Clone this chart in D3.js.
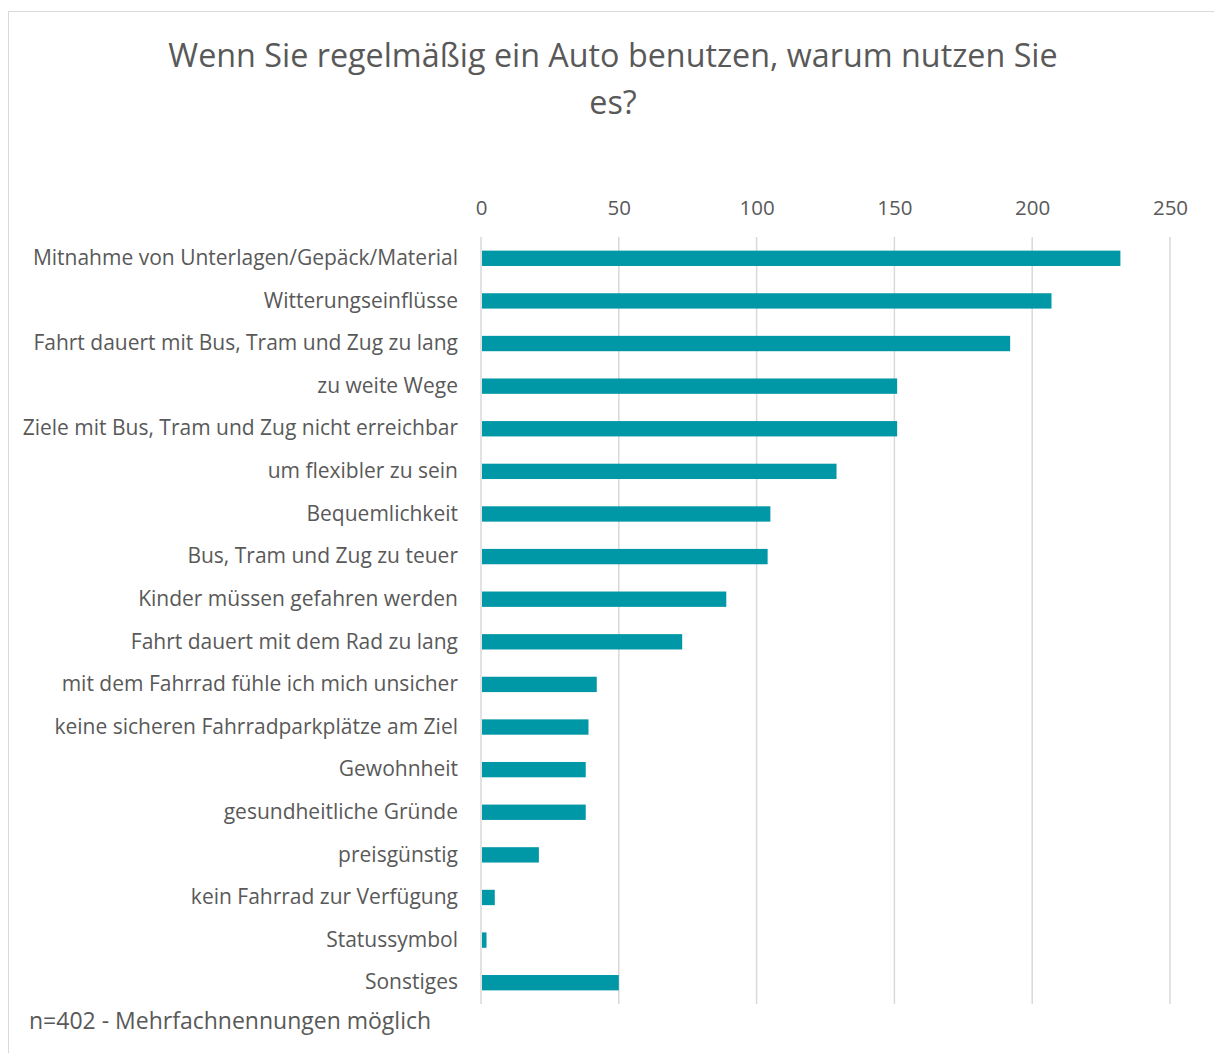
<!DOCTYPE html>
<html>
<head>
<meta charset="utf-8">
<script src="https://cdn.jsdelivr.net/npm/d3@7"></script>
<style>
  html, body { margin: 0; padding: 0; background: #fff; }
  svg text { font-family: "Open Sans", "Noto Sans", sans-serif; fill: #595959; }
</style>
</head>
<body>
<svg id="chart" width="1214" height="1053"></svg>
<script>
// Survey answers: reasons for regular car use (multiple answers possible)
const categories = [
  "Mitnahme von Unterlagen/Gepäck/Material",
  "Witterungseinflüsse",
  "Fahrt dauert mit Bus, Tram und Zug zu lang",
  "zu weite Wege",
  "Ziele mit Bus, Tram und Zug nicht erreichbar",
  "um flexibler zu sein",
  "Bequemlichkeit",
  "Bus, Tram und Zug zu teuer",
  "Kinder müssen gefahren werden",
  "Fahrt dauert mit dem Rad zu lang",
  "mit dem Fahrrad fühle ich mich unsicher",
  "keine sicheren Fahrradparkplätze am Ziel",
  "Gewohnheit",
  "gesundheitliche Gründe",
  "preisgünstig",
  "kein Fahrrad zur Verfügung",
  "Statussymbol",
  "Sonstiges"
];
const counts = [232, 207, 192, 151, 151, 129, 105, 104, 89, 73, 42, 39, 38, 38, 21, 5, 2, 50];
const tickValues = [0, 50, 100, 150, 200, 250];
const titleLines = ["Wenn Sie regelmäßig ein Auto benutzen, warum nutzen Sie", "es?"];
const footnote = "n=402 - Mehrfachnennungen möglich";

const svg = d3.select("#chart");
const W = 1214, H = 1053;

// chart frame
svg.append("rect")
  .attr("x", 8.5).attr("y", 11.5)
  .attr("width", W + 10).attr("height", H + 10)
  .attr("fill", "#fff").attr("stroke", "#d9d9d9").attr("stroke-width", 1);

const plot = { left: 481, right: 1170, top: 237, bottom: 1004 };

const x = d3.scaleLinear().domain([0, 250]).range([plot.left, plot.right]);
const y = d3.scaleBand().domain(categories).range([plot.top, plot.bottom]).paddingInner(0.64).paddingOuter(0.32);

// title
svg.append("g").selectAll("text")
  .data(titleLines).join("text")
  .attr("x", 613).attr("y", (d, i) => 67 + i * 47)
  .attr("text-anchor", "middle")
  .style("font-size", "32.3px")
  .text(d => d);

// vertical gridlines
svg.append("g").selectAll("line")
  .data(tickValues).join("line")
  .attr("x1", d => x(d)).attr("x2", d => x(d))
  .attr("y1", plot.top).attr("y2", plot.bottom)
  .attr("stroke", "#d9d9d9").attr("stroke-width", 1.5);

// top value axis
const xAxis = svg.append("g")
  .attr("transform", `translate(0,${plot.top})`)
  .call(d3.axisTop(x).tickValues(tickValues).tickSize(0).tickPadding(22));
xAxis.select(".domain").remove();
xAxis.selectAll("text").style("font-size", "20.5px").attr("fill", "#595959");

// category axis
const yAxis = svg.append("g")
  .attr("transform", `translate(${plot.left},0)`)
  .call(d3.axisLeft(y).tickSize(0).tickPadding(23));
yAxis.select(".domain").remove();
yAxis.selectAll("text").style("font-size", "21px").attr("fill", "#595959");

// bars
svg.append("g").selectAll("rect")
  .data(categories).join("rect")
  .attr("x", x(0) + 1)
  .attr("y", d => y(d))
  .attr("width", (d, i) => x(counts[i]) - x(0) - 1)
  .attr("height", y.bandwidth())
  .attr("fill", "#0097a7");

// footnote
svg.append("text")
  .attr("x", 29).attr("y", 1029)
  .style("font-size", "23px")
  .text(footnote);
</script>
</body>
</html>
